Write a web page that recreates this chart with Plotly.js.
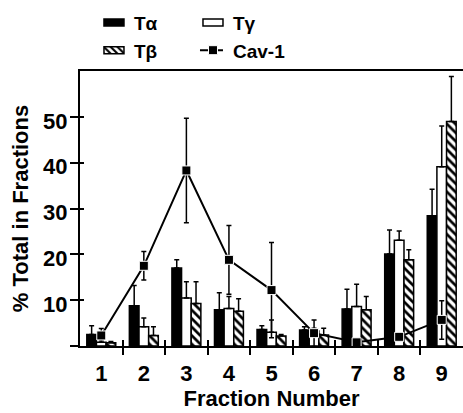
<!DOCTYPE html>
<html><head><meta charset="utf-8">
<script src="https://cdn.plot.ly/plotly-3.0.1.min.js"></script>
<style>html,body{margin:0;padding:0;background:#fff}#chart{width:463px;height:413px}</style>
</head><body><div id="chart"></div>
<script>
const fractions = [1, 2, 3, 4, 5, 6, 7, 8, 9];
const tickLabels = ['1', '2', '3', '4', '5', '6', '7', '8', '9'];
const tAlpha    = [2.5, 8.8, 17.0, 7.9, 3.6, 3.5, 8.1, 20.1, 28.4];
const tAlphaErr = [1.9, 4.4, 1.8, 3.7, 0.8, 0.7, 4.3, 5.2, 5.8];
const tGamma    = [0.8, 4.2, 10.5, 8.2, 3.0, 3.3, 8.6, 23.1, 39.1];
const tGammaErr = [0.5, 1.9, 3.5, 2.6, 2.7, 0.6, 4.9, 2.0, 8.9];
const tBeta     = [0.7, 2.3, 9.3, 7.6, 2.2, 2.4, 7.9, 18.8, 49.0];
const tBetaErr  = [0.3, 1.9, 4.7, 2.7, 0.3, 1.5, 2.9, 2.2, 9.8];
const cav1      = [2.3, 17.5, 38.3, 18.8, 12.2, 2.8, 0.8, 2.0, 5.7];
const cav1Err   = [1.5, 3.1, 11.4, 7.5, 10.4, 2.9, 0.3, 0.8, 4.2];
const noLowerErr = [0, 0, 0, 0, 0, 0, 0, 0, 0];
const yTickVals = [0, 10, 20, 30, 40, 50];
const yTickText = ['', '10', '20', '30', '40', '50'];
const xBoundaries = fractions.slice(0, -1).map(f => f + 0.5);

const FONT = 'Liberation Sans, Arial, Helvetica, sans-serif';
const barLine = {color: '#000', width: 1.5};
function errUp(arr) {
  return {type: 'data', symmetric: false, array: arr, arrayminus: noLowerErr,
          visible: true, color: '#000', thickness: 1.5, width: 2.5};
}

const traces = [
  {type: 'bar', name: 'T\u03b1', x: fractions, y: tAlpha, legend: 'legend',
   marker: {color: '#000', line: barLine}, error_y: errUp(tAlphaErr)},
  {type: 'bar', name: 'T\u03b3', x: fractions, y: tGamma, legend: 'legend2',
   marker: {color: '#fff', line: barLine}, error_y: errUp(tGammaErr)},
  {type: 'bar', name: 'T\u03b2', x: fractions, y: tBeta, legend: 'legend',
   marker: {color: '#fff', line: barLine,
            pattern: {shape: '\\', fgcolor: '#000', bgcolor: '#fff', size: 6, solidity: 0.45}},
   error_y: errUp(tBetaErr)},
  {type: 'scatter', mode: 'lines+markers', name: 'Cav-1', x: fractions, y: cav1,
   xaxis: 'x2', yaxis: 'y2', legend: 'legend2',
   line: {color: '#000', width: 2},
   marker: {symbol: 'square', size: 9, color: '#000', line: {color: '#fff', width: 1}},
   error_y: {type: 'data', array: cav1Err, visible: true, color: '#000', thickness: 1.5, width: 2.5}}
];

const axisCommon = {showgrid: false, zeroline: false, linecolor: '#000', tickcolor: '#000'};
const layout = {
  width: 463, height: 413,
  margin: {l: 80, r: 0, t: 71, b: 67, pad: 0},
  paper_bgcolor: '#fff', plot_bgcolor: '#fff',
  font: {family: FONT, size: 19, color: '#000', weight: 700},
  barmode: 'group', bargap: 0.32, bargroupgap: 0,
  showlegend: true,
  xaxis: Object.assign({}, axisCommon, {
    range: [0.5, 9.5], tickmode: 'array', tickvals: fractions, ticktext: tickLabels,
    ticks: '', showline: true, linewidth: 2, mirror: true, ticklabelstandoff: 7,
    minor: {tickmode: 'array', tickvals: xBoundaries, ticks: 'outside', ticklen: 7, tickwidth: 2, tickcolor: '#000', showgrid: false},
    tickfont: {family: FONT, size: 22, weight: 700},
    title: {text: 'Fraction Number', font: {family: FONT, size: 22, weight: 700}, standoff: 3}
  }),
  yaxis: Object.assign({}, axisCommon, {
    range: [0, 60], tickmode: 'array', tickvals: yTickVals, ticktext: yTickText,
    ticks: 'outside', ticklen: 8, tickwidth: 2, showline: true, linewidth: 2,
    ticklabelstandoff: -2, ticklabelshift: 4,
    tickfont: {family: FONT, size: 22, weight: 700},
    title: {text: '% Total in Fractions', font: {family: FONT, size: 22, weight: 700}, standoff: 8}
  }),
  xaxis2: Object.assign({}, axisCommon, {
    overlaying: 'x', matches: 'x', anchor: 'y2', range: [0.5, 9.5],
    tickmode: 'array', tickvals: xBoundaries, ticks: 'inside', ticklen: 6, tickwidth: 2,
    showticklabels: false, showline: false
  }),
  yaxis2: Object.assign({}, axisCommon, {
    overlaying: 'y', matches: 'y', anchor: 'x2', range: [0, 60],
    tickmode: 'array', tickvals: yTickVals, ticks: 'inside', ticklen: 4, tickwidth: 2,
    showticklabels: false, showline: false
  }),
  legend: {x: 0.0365, y: 1.245, xanchor: 'left', yanchor: 'top', bgcolor: 'rgba(0,0,0,0)',
           orientation: 'v', tracegroupgap: 0, font: {family: FONT, size: 19, weight: 700}},
  legend2: {x: 0.295, y: 1.245, xanchor: 'left', yanchor: 'top', bgcolor: 'rgba(0,0,0,0)',
            orientation: 'v', tracegroupgap: 0, font: {family: FONT, size: 19, weight: 700}}
};

Plotly.newPlot('chart', traces, layout, {displayModeBar: false, staticPlot: true}).then(gd => {
  // flatten the legend bar swatches into wide rectangles, as in the original figure
  gd.querySelectorAll('g.legendpoints path').forEach(p => {
    if ((p.getAttribute('d') || '').indexOf('M6,6H-6V-6H6Z') === 0) p.setAttribute('d', 'M10,3.5H-10V-3.5H10Z');
  });
  // shorter legend line for Cav-1
  gd.querySelectorAll('g.legendlines path').forEach(p => p.setAttribute('d', 'M7,0h23'));
});
</script>
</body></html>
